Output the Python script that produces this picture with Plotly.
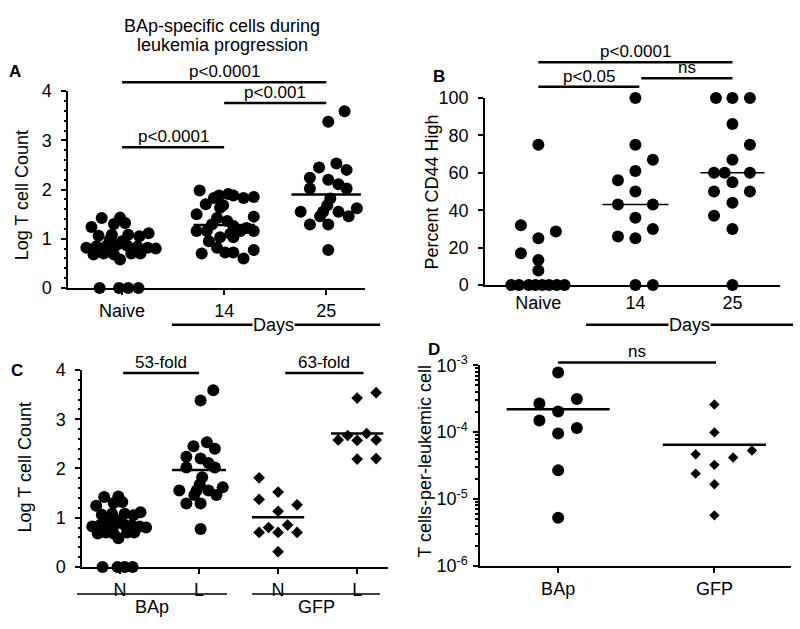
import math
import plotly.graph_objects as go

W, H = 800, 629
FONT = "Liberation Sans, Arial, sans-serif"
FS = 18

# ---- Panel A / C (BAp-specific log T cell count) ----
# horizontal jitter is in category units, values are log counts
naive_off = [-0.30, -0.20, -0.02, 0.03, -0.08, 0.26, -0.23, -0.10, 0.06, 0.17,
             -0.35, -0.25, -0.15, -0.05, 0.05, 0.15, 0.25, 0.33, -0.28, -0.18,
             -0.08, -0.02, 0.09, 0.18, -0.22, -0.03, 0.06, 0.16, 0.00, -0.12]
naive_val = [1.24, 1.42, 1.43, 1.32, 1.30, 1.11, 1.06, 1.08, 1.08, 1.05,
             0.82, 0.85, 0.86, 0.88, 0.86, 0.84, 0.82, 0.80, 0.68, 0.70,
             0.68, 0.58, 0.70, 0.70, 0.00, 0.00, 0.00, 0.00, 0.95, 0.98]

day14_off = [-0.24, -0.18, -0.27, -0.27, -0.15, -0.22, -0.07, 0.01, 0.09, 0.19,
             0.29, 0.29, 0.29, 0.29, 0.19, 0.09, 0.04, -0.05, -0.10, -0.04,
             -0.07, 0.03, 0.09, 0.16, 0.22, -0.12, -0.17, -0.04, 0.09, 0.06, -0.01]
day14_val = [1.98, 1.70, 1.50, 1.16, 0.95, 0.70, 0.82, 0.72, 0.72, 0.60,
             0.77, 1.16, 1.45, 1.85, 1.83, 1.88, 1.91, 1.88, 1.83, 1.63,
             1.42, 1.36, 1.26, 1.16, 1.22, 1.29, 1.16, 1.03, 1.03, 1.10, 1.68]

day25_off = [0.18, 0.02, -0.07, 0.10, 0.20, -0.16, -0.16, 0.02, 0.12, 0.20,
             0.04, 0.01, -0.03, -0.06, -0.25, 0.12, 0.22, 0.30, -0.16, 0.02, 0.02]
day25_val = [3.59, 3.38, 2.45, 2.53, 2.40, 2.24, 2.02, 2.20, 2.11, 2.02,
             1.82, 1.68, 1.55, 1.46, 1.55, 1.55, 1.46, 1.62, 1.29, 1.29, 0.77]

a_cats = ["Naive", "14", "25"]
a_means = [0.83, 1.28, 1.90]

# ---- Panel B (percent CD44 high) ----
b_naive_off = [0.0, -0.18, 0.0, 0.18, -0.18, 0.0, 0.0,
               -0.28, -0.20, -0.10, -0.03, 0.04, 0.11, 0.19, 0.27]
b_naive_val = [75, 32, 25, 28.6, 17, 13.4, 7.8, 0, 0, 0, 0, 0, 0, 0, 0]
b_14_off = [0.0, 0.0, 0.18, 0.0, -0.18, 0.0, -0.18, 0.18, 0.0, -0.18, 0.0, 0.18, 0.0, 0.18]
b_14_val = [100, 75, 67, 61, 56, 50, 43, 43, 36, 26, 25, 30, 0, 0]
b_25_off = [-0.17, 0.0, 0.18, 0.0, 0.18, 0.0, -0.19, -0.08, 0.18, 0.0,
            -0.19, 0.18, 0.0, -0.19, 0.0, 0.0]
b_25_val = [100, 100, 100, 86, 75, 67, 60, 60, 60, 55, 50, 50, 44, 37, 30, 0]
b_means = [0, 43, 60]

# ---- Panel C (naive vs leukemic, BAp vs GFP) ----
c_cats = ["N", "L", "N", "L"]
gfp_n_off = [-0.24, -0.24, 0.0, 0.24, 0.0, -0.24, -0.12, 0.0, 0.12, 0.24, 0.0]
gfp_n_val = [1.81, 1.37, 1.52, 1.26, 1.13, 0.70, 0.80, 0.70, 0.85, 0.70, 0.31]
gfp_l_off = [0.0, 0.24, -0.24, -0.12, 0.0, 0.12, 0.24, 0.0, 0.24]
gfp_l_val = [3.43, 3.54, 2.58, 2.67, 2.57, 2.71, 2.58, 2.19, 2.20]
c_means = [0.83, 1.97, 1.01, 2.71]

# ---- Panel D (T cells per leukemic cell) ----
d_cats = ["BAp", "GFP"]
d_bap_off = [0.0, -0.12, 0.12, 0.0, -0.12, 0.12, 0.0, 0.0, 0.0]
d_bap_val = [7.8e-4, 2.68e-4, 3.13e-4, 2.03e-4, 1.49e-4, 1.15e-4, 9.5e-5, 2.68e-5, 5.26e-6]
d_gfp_off = [0.0, 0.0, -0.12, 0.12, 0.24, 0.0, -0.12, 0.0, 0.0]
d_gfp_val = [2.59e-4, 9.9e-5, 4.66e-5, 4.17e-5, 5.32e-5, 3.24e-5, 2.4e-5, 1.66e-5, 5.7e-6]
d_means = [2.19e-4, 6.5e-5]

# panel geometry in pixels: x domain (left, right), y domain (bottom, top)
PANELS = {
    "A": dict(xd=(68, 365), yd=(286, 82), xr=(-0.53, 2.38), yr=(0, 4), log=False),
    "B": dict(xd=(485, 780), yd=(283, 89), xr=(-0.55, 2.49), yr=(0, 100), log=False),
    "C": dict(xd=(82, 388), yd=(575, 371), xr=(-0.48, 3.39), yr=(0, 4), log=False),
    "D": dict(xd=(480, 791), yd=(574, 366), xr=(-0.5, 1.49), yr=(-6, -3), log=True),
}
AXIS_ID = {"A": "", "B": "2", "C": "3", "D": "4"}


def px_x(p, x):
    g = PANELS[p]
    return g["xd"][0] + (x - g["xr"][0]) / (g["xr"][1] - g["xr"][0]) * (g["xd"][1] - g["xd"][0])


def px_y(p, y):
    g = PANELS[p]
    v = math.log10(y) if g["log"] else y
    return g["yd"][0] + (v - g["yr"][0]) / (g["yr"][1] - g["yr"][0]) * (g["yd"][1] - g["yd"][0])


def paper_x(px):
    return px / W


def paper_y(py):
    return 1 - py / H


fig = go.Figure()


def add_group(p, pos, offs, vals, mean, symbol="circle", size=12, mean_w=2.5, half=0.33):
    n = AXIS_ID[p]
    fig.add_trace(go.Scatter(
        x=[pos - half, pos + half], y=[mean, mean], mode="lines",
        line=dict(color="black", width=mean_w),
        xaxis="x" + n, yaxis="y" + n, hoverinfo="skip"))
    fig.add_trace(go.Scatter(
        x=[pos + o for o in offs], y=vals, mode="markers",
        marker=dict(color="black", symbol=symbol, size=size, line=dict(width=0)),
        cliponaxis=False, xaxis="x" + n, yaxis="y" + n))


# panel A
add_group("A", 0, naive_off, naive_val, a_means[0], half=0.3)
add_group("A", 1, day14_off, day14_val, a_means[1], half=0.3)
add_group("A", 2, day25_off, day25_val, a_means[2], half=0.34)
# panel B
add_group("B", 0, b_naive_off, b_naive_val, b_means[0], mean_w=1.5)
add_group("B", 1, b_14_off, b_14_val, b_means[1], mean_w=1.5, half=0.34)
add_group("B", 2, b_25_off, b_25_val, b_means[2], mean_w=1.5)
# panel C
add_group("C", 0, naive_off, naive_val, c_means[0], half=0.3)
add_group("C", 1, day25_off, day25_val, c_means[1], half=0.34)
add_group("C", 2, gfp_n_off, gfp_n_val, c_means[2], symbol="diamond", size=9)
add_group("C", 3, gfp_l_off, gfp_l_val, c_means[3], symbol="diamond", size=9)
# panel D
add_group("D", 0, d_bap_off, d_bap_val, d_means[0])
add_group("D", 1, d_gfp_off, d_gfp_val, d_means[1], symbol="diamond", size=8)

tick_font = dict(family=FONT, size=FS, color="black")
common = dict(showline=True, linecolor="black", linewidth=1.5, showgrid=False,
              zeroline=False, ticks="outside", ticklen=5, tickwidth=1.5,
              tickcolor="black", tickfont=tick_font, fixedrange=True)

layout_axes = {}
x_ticks = {"A": a_cats, "B": a_cats, "C": c_cats, "D": d_cats}
for p, g in PANELS.items():
    n = AXIS_ID[p]
    xdom = [paper_x(g["xd"][0]), paper_x(g["xd"][1])]
    ydom = [paper_y(g["yd"][0]), paper_y(g["yd"][1])]
    layout_axes["xaxis" + n] = dict(
        common, domain=xdom, range=list(g["xr"]), anchor="y" + n,
        tickvals=list(range(len(x_ticks[p]))), ticktext=x_ticks[p],
        ticks="" if p == "B" else "outside", ticklabelstandoff=1)
    ya = dict(common, domain=ydom, range=list(g["yr"]), anchor="x" + n,
              ticklabelstandoff=6)
    if p == "D":
        ya.update(type="log", tickvals=[1e-6, 1e-5, 1e-4, 1e-3],
                  ticktext=["10<sup>-6</sup>", "10<sup>-5</sup>", "10<sup>-4</sup>", "10<sup>-3</sup>"],
                  ticklabelstandoff=2,
                  minor=dict(ticks="outside", ticklen=3, tickcolor="black",
                             tickvals=[k * 10 ** e for e in (-6, -5, -4) for k in range(2, 10)]))
    elif p == "B":
        ya.update(tickvals=[0, 20, 40, 60, 80, 100])
    else:
        ya.update(tickvals=[0, 1, 2, 3, 4],
                  minor=dict(ticks="outside", ticklen=2, dtick=0.2, tickcolor="black"))
    layout_axes["yaxis" + n] = ya

shapes = []
annotations = []


def hline(x0, x1, y, w=2.5):
    shapes.append(dict(type="line", xref="paper", yref="paper",
                       x0=paper_x(x0), x1=paper_x(x1), y0=paper_y(y), y1=paper_y(y),
                       line=dict(color="black", width=w)))


def text(x, y, s, size=FS, bold=False, yanchor="middle", xanchor="center", angle=0, bg=None):
    annotations.append(dict(
        x=paper_x(x), y=paper_y(y), xref="paper", yref="paper", text=s,
        showarrow=False, xanchor=xanchor, yanchor=yanchor, textangle=angle,
        bgcolor=bg, borderpad=0,
        font=dict(family=FONT, size=size, color="black",
                  weight="bold" if bold else "normal")))


# significance brackets: (panel, x0, x1, y, label)
brackets = [
    ("A", 0, 2, 4.18, "p<0.0001"),
    ("A", 1, 2, 3.76, "p<0.001"),
    ("A", 0, 1, 2.86, "p<0.0001"),
    ("B", 0, 2, 119, "p<0.0001"),
    ("B", 0, 1.04, 106, "p<0.05"),
    ("B", 1.06, 2, 110.5, "ns"),
    ("C", 0.04, 1, 3.94, "53-fold"),
    ("C", 2.09, 3.08, 3.94, "63-fold"),
    ("D", 0, 1.01, 1.1e-3, "ns"),
]
for p, x0, x1, y, lab in brackets:
    X0, X1, Y = px_x(p, x0), px_x(p, x1), px_y(p, y)
    hline(X0, X1, Y)
    text((X0 + X1) / 2, Y, lab, size=17, yanchor="bottom")

# panel letters
text(8, 62, "A", size=17, bold=True, xanchor="left")
text(432, 67, "B", size=17, bold=True, xanchor="left")
text(10, 372, "C", size=17, bold=True, xanchor="left")
text(427, 350, "D", size=17, bold=True, xanchor="left")

# title of panel A
text(222, 15, "BAp-specific cells during")
text(222, 34, "leukemia progression")

# y axis titles
text(22, 190, "Log T cell Count", angle=-90)
text(432, 187, "Percent CD44 High", angle=-90)
text(25, 472, "Log T cell Count", angle=-90)
text(425, 466, "T cells-per-leukemic cell", angle=-90)

# "Days" spans under panels A and B
hline(172, 380, 324)
text(273, 324, "Days", bg="white")
hline(586, 793, 324)
text(689, 324, "Days", bg="white")

# group labels under panel C
hline(77, 227, 603, w=1.5)
text(152, 617, "BAp")
hline(252, 380, 603, w=1.5)
text(316, 617, "GFP")

fig.update_layout(
    width=W, height=H, margin=dict(l=0, r=0, t=0, b=0),
    plot_bgcolor="white", paper_bgcolor="white", showlegend=False,
    font=dict(family=FONT, color="black"),
    shapes=shapes, annotations=annotations, **layout_axes)

# drop the browser's default body margin so the figure sits at the page origin
fig.write_html("out.html", config={"displayModeBar": False},
               post_script="document.body.style.margin='0';document.body.style.overflow='hidden';")
